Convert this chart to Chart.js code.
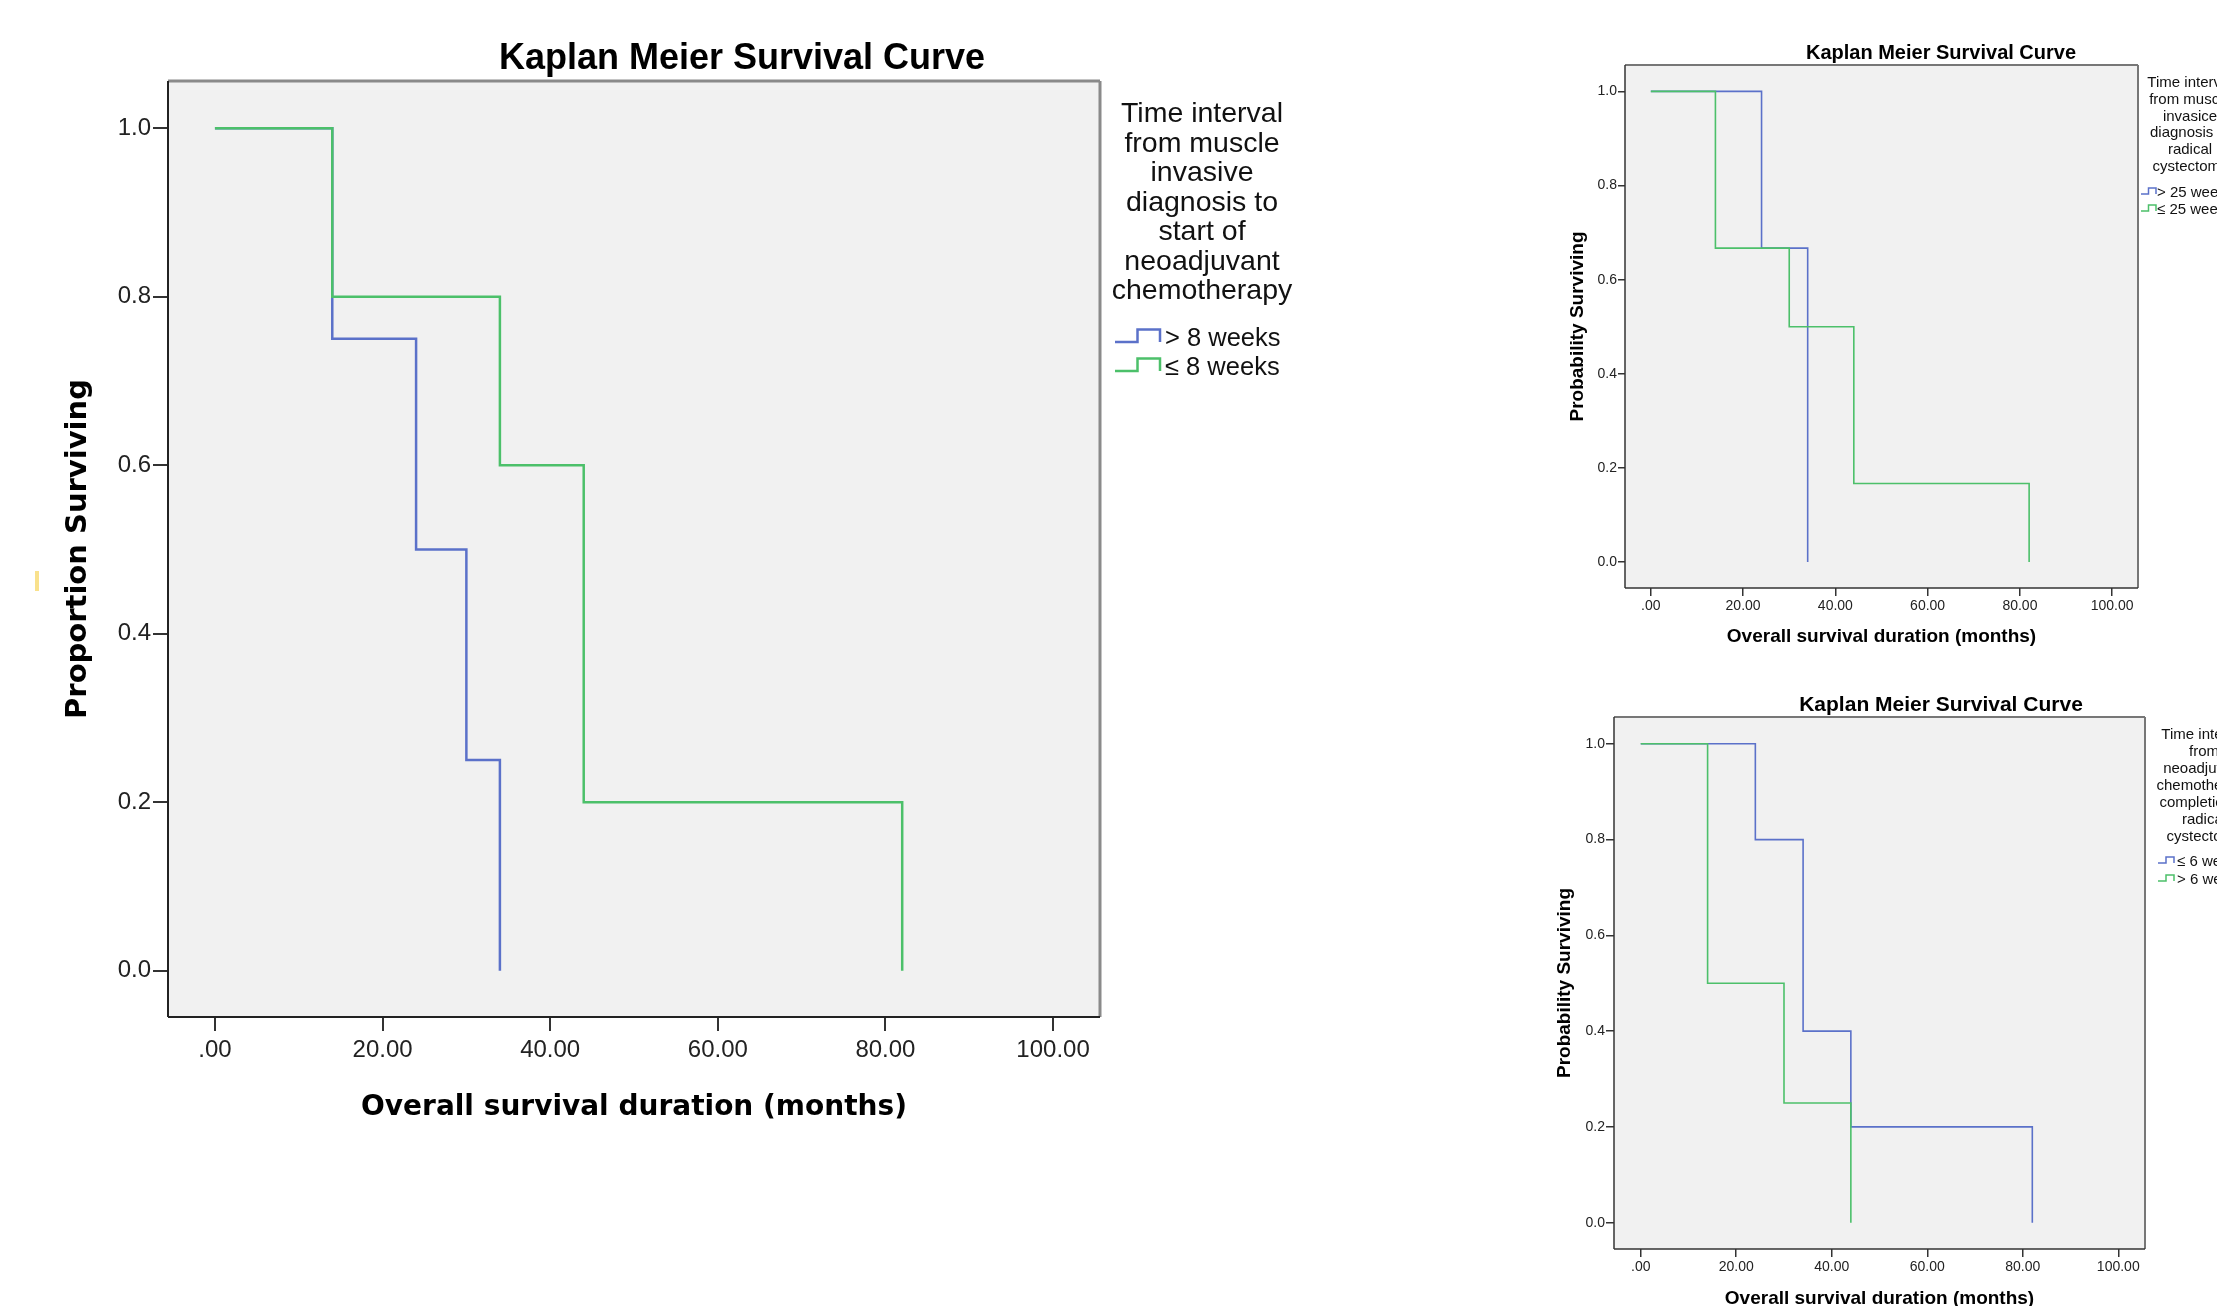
<!DOCTYPE html>
<html>
<head>
<meta charset="utf-8">
<title>Kaplan Meier Survival Curves</title>
<script src="https://cdn.jsdelivr.net/npm/chart.js@4.4.1/dist/chart.umd.min.js"></script>
<style>
  html, body { margin: 0; padding: 0; background: #fff; }
  #page { position: relative; width: 2217px; height: 1306px; overflow: hidden; }
  canvas { position: absolute; }
  #mark { position: absolute; left: 35px; top: 571px; width: 4px; height: 20px; background: #f9e18c; }
</style>
</head>
<body>
<div id="page">
  <canvas id="mainChart" width="1520" height="1306" style="left:0;top:0"></canvas>
  <canvas id="topChart" width="677" height="680" style="left:1540px;top:0"></canvas>
  <canvas id="bottomChart" width="677" height="680" style="left:1540px;top:660px"></canvas>
  <div id="mark"></div>
</div>
<script>
const BLUE = "#5b71c9";
const GREEN = "#4cc06a";

const X_TICKS = [0, 20, 40, 60, 80, 100];
const Y_TICKS = [0, 0.2, 0.4, 0.6, 0.8, 1.0];

// big chart: muscle invasive diagnosis -> start of neoadjuvant chemotherapy
const mainLegendTitle = ["Time interval", "from muscle", "invasive", "diagnosis to", "start of", "neoadjuvant", "chemotherapy"];
const mainGroups = ["> 8 weeks", "\u2264 8 weeks"];
const mainTimesOver8 = [0, 14, 24, 30, 34];
const mainSurvOver8 = [1, 0.75, 0.5, 0.25, 0];
const mainTimesUpTo8 = [0, 14, 34, 44, 82];
const mainSurvUpTo8 = [1, 0.8, 0.6, 0.2, 0];

// top right: muscle invasive diagnosis -> radical cystectomy
const topLegendTitle = ["Time interval", "from muscle", "invasice", "diagnosis to", "radical", "cystectomy"];
const topGroups = ["> 25 weeks", "\u2264 25 weeks"];
const topTimesOver25 = [0, 24, 34];
const topSurvOver25 = [1, 0.667, 0];
const topTimesUpTo25 = [0, 14, 30, 44, 82];
const topSurvUpTo25 = [1, 0.667, 0.5, 0.167, 0];

// bottom right: end of neoadjuvant chemotherapy -> radical cystectomy
const bottomLegendTitle = ["Time interval", "from", "neoadjuvant", "chemotherapy", "completion to", "radical", "cystectomy"];
const bottomGroups = ["\u2264 6 weeks", "> 6 weeks"];
const bottomTimesUpTo6 = [0, 24, 34, 44, 82];
const bottomSurvUpTo6 = [1, 0.8, 0.4, 0.2, 0];
const bottomTimesOver6 = [0, 14, 30, 44];
const bottomSurvOver6 = [1, 0.5, 0.25, 0];

const TITLE = "Kaplan Meier Survival Curve";
const X_TITLE = "Overall survival duration (months)";

// plot background, frame, chart title and the SPSS style legend
const kmDecor = {
  id: "kmDecor",
  beforeDraw(chart, args, o) {
    const { ctx, chartArea: a } = chart;
    ctx.save();
    ctx.fillStyle = "#f1f1f1";
    ctx.fillRect(a.left, a.top, a.right - a.left, a.bottom - a.top);
    ctx.restore();
  },
  afterDraw(chart, args, o) {
    const { ctx, chartArea: a } = chart;
    ctx.save();
    const side = (x1, y1, x2, y2, color, w) => {
      ctx.strokeStyle = color;
      ctx.lineWidth = w;
      ctx.beginPath();
      ctx.moveTo(x1, y1);
      ctx.lineTo(x2, y2);
      ctx.stroke();
    };
    side(a.left, a.top, a.right, a.top, o.frameLight, o.frameLightWidth);
    side(a.right, a.top, a.right, a.bottom, o.frameLight, o.frameLightWidth);
    side(a.left, a.top, a.left, a.bottom, o.frameDark, o.frameDarkWidth);
    side(a.left, a.bottom, a.right, a.bottom, o.frameDark, o.frameDarkWidth);

    ctx.fillStyle = "#000";
    ctx.textBaseline = "alphabetic";
    ctx.textAlign = "center";
    ctx.font = o.titleFont;
    ctx.fillText(o.title, o.titleX, o.titleY);

    ctx.fillStyle = "#111";
    ctx.font = o.legendFont;
    o.legendLines.forEach((line, i) => {
      ctx.fillText(line, o.legendX, o.legendY + i * o.legendStep);
    });

    ctx.textAlign = "left";
    ctx.font = o.itemFont;
    o.items.forEach((label, i) => {
      const b = o.itemY[i];
      const x0 = o.iconX, w = o.iconW;
      const low = b - o.iconLow, high = b - o.iconHigh;
      ctx.strokeStyle = o.itemColors[i];
      ctx.lineWidth = o.iconLine;
      ctx.beginPath();
      ctx.moveTo(x0, low);
      ctx.lineTo(x0 + w / 2, low);
      ctx.lineTo(x0 + w / 2, high);
      ctx.lineTo(x0 + w, high);
      ctx.lineTo(x0 + w, low);
      ctx.stroke();
      ctx.fillStyle = "#111";
      ctx.fillText(label, o.textX, b);
    });
    ctx.restore();
  },
};

function kmSeries(times, surv) {
  return times.map((t, i) => ({ x: t, y: surv[i] }));
}

function makeChart(id, s) {
  return new Chart(document.getElementById(id), {
    type: "line",
    data: {
      datasets: [
        { label: s.groups[0], data: kmSeries(s.blueTimes, s.blueSurv), borderColor: BLUE, order: 1 },
        { label: s.groups[1], data: kmSeries(s.greenTimes, s.greenSurv), borderColor: GREEN, order: 0 },
      ],
    },
    options: {
      responsive: false,
      animation: false,
      devicePixelRatio: 1,
      layout: { padding: s.padding },
      elements: {
        point: { radius: 0 },
        line: { borderWidth: s.lineWidth, stepped: "before", tension: 0, fill: false },
      },
      plugins: {
        legend: { display: false },
        tooltip: { enabled: false },
        kmDecor: s.decor,
      },
      scales: {
        x: {
          type: "linear",
          min: -5.6,
          max: 105.6,
          afterBuildTicks: (ax) => { ax.ticks = X_TICKS.map((v) => ({ value: v })); },
          afterFit: (ax) => { ax.height = s.xHeight; },
          border: { display: false },
          grid: { drawOnChartArea: false, drawTicks: true, tickLength: s.xTickLen, color: "#333", lineWidth: s.tickWidth },
          ticks: {
            padding: s.xTickPad,
            maxRotation: 0,
            autoSkip: false,
            color: "#222",
            font: { family: "'Liberation Sans', Arial, sans-serif", size: s.tickSize },
            callback: (v) => (v === 0 ? ".00" : v.toFixed(2)),
          },
          title: { display: true, text: X_TITLE, color: "#000", padding: 0, font: s.xTitleFont },
        },
        y: {
          type: "linear",
          min: -0.055,
          max: 1.056,
          afterBuildTicks: (ax) => { ax.ticks = Y_TICKS.map((v) => ({ value: v })); },
          afterFit: (ax) => { ax.width = s.yWidth; },
          border: { display: false },
          grid: { drawOnChartArea: false, drawTicks: true, tickLength: s.yTickLen, color: "#333", lineWidth: s.tickWidth },
          ticks: {
            padding: s.yTickPad,
            color: "#222",
            font: { family: "'Liberation Sans', Arial, sans-serif", size: s.tickSize },
            callback: (v) => v.toFixed(1),
          },
          title: { display: true, text: s.yTitle, color: "#000", padding: 0, font: s.yTitleFont },
        },
      },
    },
    plugins: [kmDecor],
  });
}

makeChart("mainChart", {
  groups: mainGroups,
  blueTimes: mainTimesOver8, blueSurv: mainSurvOver8,
  greenTimes: mainTimesUpTo8, greenSurv: mainSurvUpTo8,
  padding: { left: 61, top: 81, right: 420, bottom: 181 },
  yWidth: 107, xHeight: 108,
  lineWidth: 2.5, tickWidth: 2,
  xTickLen: 14, yTickLen: 15, xTickPad: 5, yTickPad: 2,
  tickSize: 24,
  yTitle: "Proportion Surviving",
  xTitleFont: { family: "'DejaVu Sans', Verdana, sans-serif", size: 28, weight: "bold", lineHeight: 1.2 },
  yTitleFont: { family: "'DejaVu Sans', Verdana, sans-serif", size: 29, weight: "bold", lineHeight: 1.2 },
  decor: {
    frameLight: "#8a8a8a", frameLightWidth: 3, frameDark: "#222", frameDarkWidth: 2,
    title: TITLE, titleFont: "bold 36px 'Liberation Sans'", titleX: 742, titleY: 69,
    legendLines: mainLegendTitle, legendFont: "28.5px 'Liberation Sans'", legendX: 1202, legendY: 122, legendStep: 29.5,
    items: mainGroups, itemColors: [BLUE, GREEN], itemFont: "25.5px 'Liberation Sans'", itemY: [346, 375],
    iconX: 1115, iconW: 45, iconLow: 4, iconHigh: 16.5, iconLine: 2.5, textX: 1165,
  },
});

const smallAxisFont = { family: "'Liberation Sans', Arial, sans-serif", size: 19, weight: "bold", lineHeight: 1.2 };

makeChart("topChart", {
  groups: topGroups,
  blueTimes: topTimesOver25, blueSurv: topSurvOver25,
  greenTimes: topTimesUpTo25, greenSurv: topSurvUpTo25,
  padding: { left: 26, top: 65, right: 79, bottom: 32 },
  yWidth: 59, xHeight: 60,
  lineWidth: 1.6, tickWidth: 1.5,
  xTickLen: 8, yTickLen: 7, xTickPad: 2, yTickPad: 1,
  tickSize: 14,
  yTitle: "Probability Surviving",
  xTitleFont: smallAxisFont,
  yTitleFont: smallAxisFont,
  decor: {
    frameLight: "#777", frameLightWidth: 2, frameDark: "#333", frameDarkWidth: 1.5,
    title: TITLE, titleFont: "bold 20px 'Liberation Sans'", titleX: 401, titleY: 59,
    legendLines: topLegendTitle, legendFont: "15px 'Liberation Sans'", legendX: 650, legendY: 87, legendStep: 16.8,
    items: topGroups, itemColors: [BLUE, GREEN], itemFont: "15px 'Liberation Sans'", itemY: [197, 214],
    iconX: 601, iconW: 15, iconLow: 3, iconHigh: 9, iconLine: 1.5, textX: 617,
  },
});

makeChart("bottomChart", {
  groups: bottomGroups,
  blueTimes: bottomTimesUpTo6, blueSurv: bottomSurvUpTo6,
  greenTimes: bottomTimesOver6, greenSurv: bottomSurvOver6,
  padding: { left: 13, top: 57, right: 72, bottom: 30 },
  yWidth: 61, xHeight: 61,
  lineWidth: 1.6, tickWidth: 1.5,
  xTickLen: 8, yTickLen: 8, xTickPad: 2, yTickPad: 1,
  tickSize: 14,
  yTitle: "Probability Surviving",
  xTitleFont: smallAxisFont,
  yTitleFont: smallAxisFont,
  decor: {
    frameLight: "#777", frameLightWidth: 2, frameDark: "#333", frameDarkWidth: 1.5,
    title: TITLE, titleFont: "bold 21px 'Liberation Sans'", titleX: 401, titleY: 50.5,
    legendLines: bottomLegendTitle, legendFont: "15px 'Liberation Sans'", legendX: 664, legendY: 79, legendStep: 17,
    items: bottomGroups, itemColors: [BLUE, GREEN], itemFont: "15px 'Liberation Sans'", itemY: [206, 224],
    iconX: 618, iconW: 16, iconLow: 3, iconHigh: 9, iconLine: 1.5, textX: 637,
  },
});
</script>
</body>
</html>
